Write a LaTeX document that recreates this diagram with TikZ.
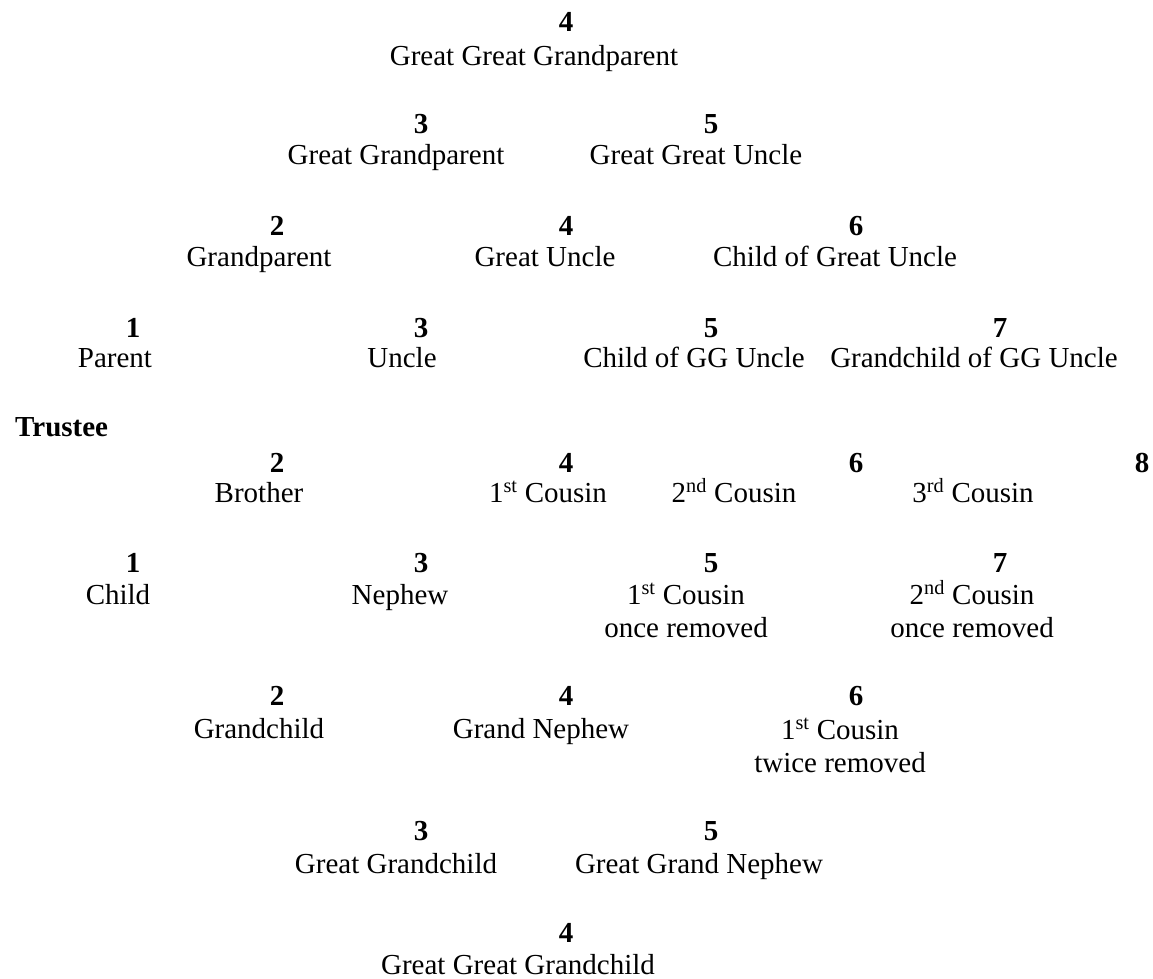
\documentclass[tikz,border=0pt]{standalone}
\usepackage{fontspec}
\setmainfont{Liberation Serif}
\usetikzlibrary{positioning}

\newcommand{\ordsup}[2]{#1\textsuperscript{#2}}

\begin{document}
\begin{tikzpicture}[x=1pt,y=-1pt,
    every node/.style={inner sep=0pt, anchor=base, font=\fontsize{29}{33}\selectfont},
    deg/.style={font=\fontsize{29}{33}\selectfont\bfseries},
    rel/.style={align=center}]

    \useasboundingbox (0,0) rectangle (1153,978);

    % ancestors
    \node[deg] (a4) at (566,31) {4};
    \node (a4l) at (534,65) {Great Great Grandparent};

    \node[deg] (b3) at (421,133) {3};
    \node (b3l) at (396,164) {Great Grandparent};
    \node[deg] (b5) at (711,133) {5};
    \node (b5l) at (696,164) {Great Great Uncle};

    \node[deg] (c2) at (277,235) {2};
    \node (c2l) at (259,266) {Grandparent};
    \node[deg] (c4) at (566,235) {4};
    \node (c4l) at (545,266) {Great Uncle};
    \node[deg] (c6) at (856,235) {6};
    \node (c6l) at (835,266) {Child of Great Uncle};

    \node[deg] (d1) at (133,337) {1};
    \node (d1l) at (115,367) {Parent};
    \node[deg] (d3) at (421,337) {3};
    \node (d3l) at (402,367) {Uncle};
    \node[deg] (d5) at (711,337) {5};
    \node (d5l) at (694,367) {Child of GG Uncle};
    \node[deg] (d7) at (1000,337) {7};
    \node (d7l) at (974,367) {Grandchild of GG Uncle};

    % trustee row
    \node[deg, anchor=base west] (t) at (15,436) {Trustee};
    \node[deg] (e2) at (277,472) {2};
    \node (e2l) at (259,502) {Brother};
    \node[deg] (e4) at (566,472) {4};
    \node (e4l) at (548,502) {\ordsup{1}{st} Cousin};
    \node[deg] (e6) at (856,472) {6};
    \node (e6l) at (734,502) {\ordsup{2}{nd} Cousin};
    \node[deg] (e8) at (1142,472) {8};
    \node (e8l) at (973,502) {\ordsup{3}{rd} Cousin};

    % descendants (two-line labels sit on their last baseline)
    \node[deg] (f1) at (133,572) {1};
    \node (f1l) at (118,604) {Child};
    \node[deg] (f3) at (421,572) {3};
    \node (f3l) at (400,604) {Nephew};
    \node[deg] (f5) at (711,572) {5};
    \node[rel] (f5l) at (686,637) {\ordsup{1}{st} Cousin\\once removed};
    \node[deg] (f7) at (1000,572) {7};
    \node[rel] (f7l) at (972,637) {\ordsup{2}{nd} Cousin\\once removed};

    \node[deg] (g2) at (277,705) {2};
    \node (g2l) at (259,738) {Grandchild};
    \node[deg] (g4) at (566,705) {4};
    \node (g4l) at (541,738) {Grand Nephew};
    \node[deg] (g6) at (856,705) {6};
    \node[rel] (g6l) at (840,772) {\ordsup{1}{st} Cousin\\twice removed};

    \node[deg] (h3) at (421,840) {3};
    \node (h3l) at (396,873) {Great Grandchild};
    \node[deg] (h5) at (711,840) {5};
    \node (h5l) at (699,873) {Great Grand Nephew};

    \node[deg] (i4) at (566,942) {4};
    \node (i4l) at (518,974) {Great Great Grandchild};
\end{tikzpicture}
\end{document}
